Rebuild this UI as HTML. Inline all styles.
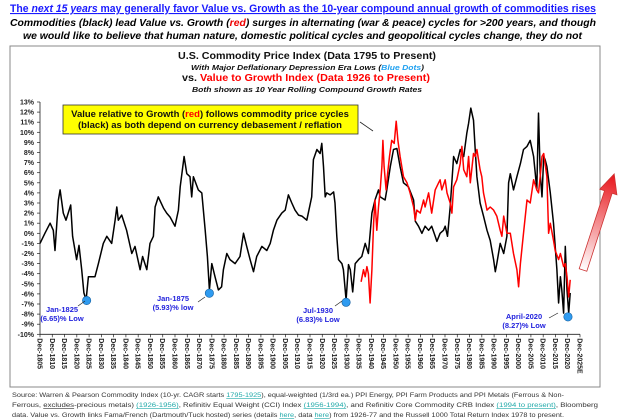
<!DOCTYPE html>
<html><head><meta charset="utf-8"><style>
html,body{margin:0;padding:0;background:#fff;}
svg{display:block;font-family:"Liberation Sans",Arial,sans-serif;}
</style></head><body>
<svg id="chart" width="624" height="420" viewBox="0 0 624 420" xmlns="http://www.w3.org/2000/svg">
<defs>
<linearGradient id="arrowGrad" x1="0" y1="0" x2="1" y2="0">
<stop offset="0" stop-color="#fff"/><stop offset="1" stop-color="#e8141a"/>
</linearGradient>
</defs>
<text x="10" y="12" textLength="586" lengthAdjust="spacingAndGlyphs" font-size="11" font-weight="bold" fill="#1a1aff" text-decoration="underline">The <tspan font-style="italic">next 15 years</tspan> may generally favor Value vs. Growth as the 10-year compound annual growth of commodities rises</text>
<text x="10" y="26" textLength="586" lengthAdjust="spacingAndGlyphs" font-size="10" font-weight="bold" font-style="italic" fill="#000">Commodities (black) lead Value vs. Growth (<tspan fill="#e00">red</tspan>) surges in alternating (war &amp; peace) cycles for &gt;200 years, and though</text>
<text x="23" y="39" textLength="559" lengthAdjust="spacingAndGlyphs" font-size="10" font-weight="bold" font-style="italic" fill="#000">we would like to believe that human nature, domestic political cycles and geopolitical cycles change, they do not</text>
<rect x="10" y="46" width="590" height="341" fill="#fff" stroke="#888" stroke-width="1"/>
<text x="178" y="59" textLength="258" lengthAdjust="spacingAndGlyphs" font-size="10" font-weight="bold" fill="#111">U.S. Commodity Price Index (Data 1795 to Present)</text>
<text x="191" y="70" textLength="233" lengthAdjust="spacingAndGlyphs" font-size="7" font-weight="bold" font-style="italic" fill="#111">With Major Deflationary Depression Era Lows (<tspan fill="#1ea0f0">Blue Dots</tspan>)</text>
<text x="182" y="81" textLength="248" lengthAdjust="spacingAndGlyphs" font-size="10" font-weight="bold" fill="#111">vs. <tspan fill="#f00">Value to Growth Index (Data 1926 to Present)</tspan></text>
<text x="192" y="92" textLength="230" lengthAdjust="spacingAndGlyphs" font-size="7" font-weight="bold" font-style="italic" fill="#111">Both shown as 10 Year Rolling Compound Growth Rates</text>
<g id="axes"></g>
<g id="series"></g>
<rect x="63" y="105" width="295" height="29" fill="#ffff00" stroke="#333" stroke-width="0.8"/>
<text x="210" y="117" text-anchor="middle" font-size="9.5" font-weight="bold" fill="#111">Value relative to Growth (<tspan fill="#f00">red</tspan>) follows commodity price cycles</text>
<text x="210" y="128" text-anchor="middle" font-size="9.5" font-weight="bold" fill="#111">(black) as both depend on currency debasement / reflation</text>
<line x1="360" y1="122" x2="373" y2="131" stroke="#222" stroke-width="0.8"/>
<g transform="translate(583,270) rotate(-72)">
<polygon points="0,-4 82,-4 82,-9 101,0 82,9 82,4 0,4" fill="url(#arrowGrad)" stroke="#c33" stroke-width="0.8"/>
</g>
<g id="labels" font-size="7.5" font-weight="bold" fill="#2222dd" text-anchor="middle">
<text x="62" y="312">Jan-1825</text>
<text x="62" y="321">(6.65)% Low</text>
<text x="173" y="301">Jan-1875</text>
<text x="173" y="310">(5.93)% low</text>
<text x="318" y="313">Jul-1930</text>
<text x="318" y="322">(6.83)% Low</text>
<text x="524" y="319">April-2020</text>
<text x="524" y="328">(8.27)% Low</text>
</g>
<g stroke="#222" stroke-width="0.7">
<line x1="78" y1="306" x2="85" y2="301"/><line x1="198" y1="302" x2="205" y2="297"/>
<line x1="335" y1="306" x2="342" y2="301"/><line x1="549" y1="318" x2="558" y2="313"/>
</g>
<g font-size="6.3" fill="#333">
<text x="12" y="397" textLength="552" lengthAdjust="spacingAndGlyphs">Source: Warren &amp; Pearson Commodity Index (10-yr. CAGR starts <tspan fill="#2aa" text-decoration="underline">1795-1925</tspan>), equal-weighted (1/3rd ea.) PPI Energy, PPI Farm Products and PPI Metals (Ferrous &amp; Non-</text>
<text x="12" y="407" textLength="586" lengthAdjust="spacingAndGlyphs">Ferrous, <tspan text-decoration="underline">excludes</tspan>-precious metals) <tspan fill="#2aa" text-decoration="underline">(1926-1956)</tspan>, Refinitiv Equal Weight (CCI) Index <tspan fill="#2aa" text-decoration="underline">(1956-1994)</tspan>, and Refinitiv Core Commodity CRB Index <tspan fill="#2aa" text-decoration="underline">(1994 to present)</tspan>, Bloomberg</text>
<text x="12" y="417" textLength="552" lengthAdjust="spacingAndGlyphs">data. Value vs. Growth links Fama/French (Dartmouth/Tuck hosted) series (details <tspan fill="#2aa" text-decoration="underline">here</tspan>, data <tspan fill="#2aa" text-decoration="underline">here</tspan>) from 1926-77 and the Russell 1000 Total Return Index 1978 to present.</text>
</g>
</svg>
<script>
const blackYears=[1805,1807,1809.1,1810.4,1811.1,1812.5,1813.2,1814.5,1815.6,1816.5,1817.5,1818.3,1819.9,1820.9,1822,1822.9,1823.8,1824.7,1827.4,1828.8,1830.8,1832.2,1834.2,1835.6,1836.3,1836.9,1838.3,1840.3,1842.4,1843.7,1845.8,1846.8,1848.5,1849.8,1851.2,1851.9,1853.2,1855.3,1856.6,1858,1860,1861.4,1862.1,1863.7,1864.8,1866.1,1866.8,1867.5,1869.5,1870.9,1872.3,1873.2,1874,1875,1876.3,1877.7,1879,1879.7,1881.1,1882.4,1884.5,1886.5,1887.9,1889.2,1890.6,1892,1893.3,1895.4,1897.4,1898.8,1900.1,1901.5,1903.5,1904.9,1906.2,1907.6,1908.9,1910.3,1911.7,1913.7,1915.7,1916.4,1917.8,1919.1,1919.8,1920.5,1921.2,1921.8,1923.2,1924.6,1925.2,1925.9,1926.6,1928,1928.6,1929.7,1930.7,1931.4,1932.4,1933.4,1934.8,1936.1,1937.5,1938.8,1940.2,1941.5,1942.9,1943.6,1945.6,1946.3,1947.7,1949,1950.4,1951.7,1953.1,1955.1,1957.2,1957.9,1959.2,1960.6,1961.9,1963.3,1964.6,1966,1966.7,1968,1969.4,1970.1,1971,1972.1,1973.5,1974.8,1976.2,1977.6,1978.9,1979.6,1980.5,1981.6,1982.3,1983,1984.3,1985.7,1987.1,1988.4,1989.8,1990.5,1991.1,1992.5,1993.9,1995.2,1995.9,1996.6,1997.9,1999.3,2000.7,2002,2003.4,2004.7,2006.1,2006.8,2007.4,2008.1,2008.8,2009.5,2010.2,2010.8,2011.5,2012.9,2014.2,2014.9,2015.6,2016.3,2017,2017.6,2018.3,2019,2019.7,2020.4,2021];
const blackValues=[-1,0,1,0.3,-1.7,3.3,4.3,2,1.3,2,2.8,-0.3,-2.6,-1.2,-3.6,-5.9,-6.6,-4.3,-4.3,-3,-1,-0.3,-1,1.3,2.6,1.3,1.8,0.3,-2,-1.3,-3.6,-2.3,-3.6,-1,-0.3,2.6,3.6,2.5,2,1.6,0.7,2.3,4.6,7.6,5.9,5.6,3.6,5.6,4.3,4,0.3,-2.3,-5.6,-3,-4.3,-5.6,-5.3,-3.6,-2,-2.6,-3,-2.3,0,-1.3,-2.6,-3.8,-2.3,-1.3,-1.7,-1,0.3,1.3,2,2.3,3.8,3,2.3,1.8,1.7,1.3,3.6,7.3,8.3,7.9,8.9,6.6,3.6,4,3.8,4.1,3,-0.3,-2.6,-3,-3.6,-6.6,-3.1,-3.6,-5.8,-3,-2.6,-2.3,-1,-2,2,3.3,4.3,3.6,3.3,4.3,6.6,8.3,8.4,6.6,5,4.6,3.3,1.2,0.7,0,0.7,0.3,0.7,-0.3,-0.8,0,0.3,0.7,-0.3,2.6,7.6,6.9,8.3,7.6,9.9,10.9,12.4,11.2,8.3,5.6,3,1.7,0.3,-0.7,-2.6,-3.8,-3,-1,-2,-0.3,5,5.9,4.3,5.6,6.9,8.3,8.6,9.2,7.6,5.9,4.3,11.9,5.9,3.6,7.6,7.3,6.6,4,1,-1.3,-3.6,-6.9,-4.3,-5.6,-7.9,-1.3,-5.6,-7.9,-5.9];
const redYears=[1935.8,1936.8,1937.5,1938.2,1938.8,1939.5,1940.2,1940.9,1941.5,1942.2,1942.9,1943.6,1944.3,1944.7,1945.2,1946,1946.6,1947.4,1948.3,1949.3,1950.1,1950.8,1951.7,1953.1,1954.5,1955.8,1957.2,1957.9,1958.5,1959.9,1961.3,1961.9,1963.3,1964.6,1966,1967.4,1968,1968.7,1970.1,1970.8,1972.1,1972.8,1973.5,1974.8,1976.2,1976.9,1977.6,1978.9,1979.6,1980.3,1981.6,1982.3,1983,1984.3,1985,1985.7,1987.1,1988.4,1989.8,1991.1,1992.5,1993.2,1993.9,1995.2,1996.6,1997.9,1999.3,2000,2000.7,2002,2003.4,2004.7,2006.1,2007.4,2008.1,2008.8,2009.5,2010.2,2011.5,2012.2,2012.9,2014.2,2014.9,2016.3,2017,2018.3,2019,2019.7,2020.4,2021];
const redValues=[-4.8,-3.6,-4.3,-3.3,-4,-6.9,-3.6,1,3.3,0.3,2.6,4.3,6.6,9.2,6.6,4.3,5.9,7.6,9.2,8.9,11.1,9.2,7.6,5.6,5,4,2.6,1.3,2.3,2,3.3,2.6,4,2,4.3,5,5.3,4.3,5.3,4,3,2,4.6,5.3,6.9,8.6,6.3,5.6,7.6,5,7.9,7.6,8.3,6.3,5.6,4,2.3,2.6,2.3,1.7,0.3,-0.3,1.7,0,0,-2,-3.6,-5.3,-3,0,3.3,3,5.3,4.3,4,5.6,7.6,7.9,5.6,0,1,-0.7,-1.7,-2.6,-2,-3.3,-3,-4.3,-6.3,-4.6];
const lowYears=[1824,1874,1929.7,2020.1];
const lowValues=[-6.65,-5.93,-6.83,-8.27];
const yTicks=[13,12,11,10,9,8,7,6,5,4,3,2,1,0,-1,-2,-3,-4,-5,-6,-7,-8,-9,-10];
const xTickYears=[1805,1810,1815,1820,1825,1830,1835,1840,1845,1850,1855,1860,1865,1870,1875,1880,1885,1890,1895,1900,1905,1910,1915,1920,1925,1930,1935,1940,1945,1950,1955,1960,1965,1970,1975,1980,1985,1990,1995,2000,2005,2010,2015,2020,2025];
const xTickLabels=xTickYears.map(y=>'Dec-'+y+(y===2025?'E':''));

const NS='http://www.w3.org/2000/svg';
const X=yr=>40+(yr-1805)*(540/220);
const Y=v=>233.3-v*10.1;
function mk(tag,attrs,parent){const e=document.createElementNS(NS,tag);for(const k in attrs)e.setAttribute(k,attrs[k]);parent.appendChild(e);return e;}
const axes=document.getElementById('axes'),series=document.getElementById('series');
let yAxis=mk('line',{x1:40,y1:Y(13),x2:40,y2:Y(-10),stroke:'#222','stroke-width':0.8},axes);


let xAxis=mk('line',{x1:40,y1:Y(-10),x2:X(2025),y2:Y(-10),stroke:'#222','stroke-width':0.8},axes);


yTicks.forEach(v=>{
  mk('line',{x1:37,y1:Y(v),x2:40,y2:Y(v),stroke:'#222','stroke-width':0.7},axes);
  const t=mk('text',{x:34,y:Y(v)+2.5,'text-anchor':'end','font-size':7,'font-weight':'bold',fill:'#222'},axes);
  t.textContent=v+'%';
  
  
});
xTickYears.forEach((yr,i)=>{
  const x=X(yr);
  mk('line',{x1:x,y1:Y(-10),x2:x,y2:Y(-10)+3,stroke:'#222','stroke-width':0.7},axes);
  const t=mk('text',{x:0,y:0,transform:'translate('+(x-2.5)+','+(Y(-10)+4)+') rotate(90)','font-size':7,'font-weight':'bold',fill:'#222'},axes);
  t.textContent=xTickLabels[i];
  
  
});
function line(xs,vs,color,name){
  const d=xs.map((yr,i)=>(i?'L':'M')+X(yr).toFixed(1)+','+Y(vs[i]).toFixed(1)).join('');
  const p=mk('path',{d:d,fill:'none',stroke:color,'stroke-width':1.5,'stroke-linejoin':'round'},series);
  
  
}
line(blackYears,blackValues,'#000','commodity-line');
line(redYears,redValues,'#f00','value-growth-line');
lowYears.forEach((yr,i)=>{
  const c=mk('circle',{cx:X(yr),cy:Y(lowValues[i]),r:4.2,fill:'#2f9bf0',stroke:'#1560a0','stroke-width':0.6},series);
  
  
});
</script>
</body></html>
